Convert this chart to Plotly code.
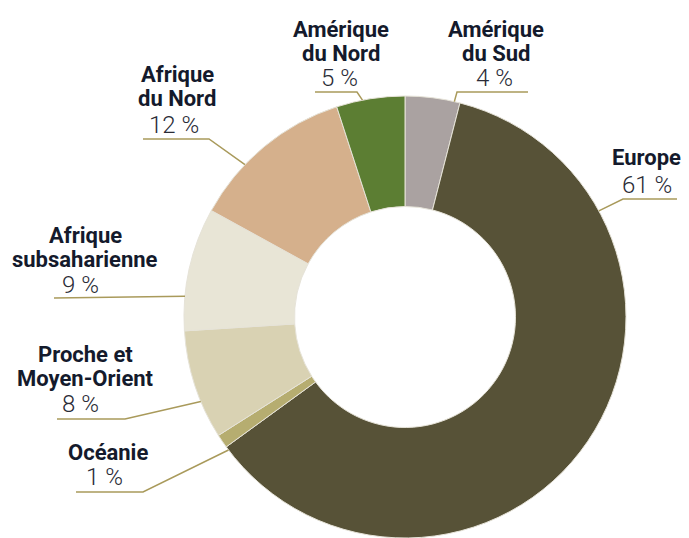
import math
import plotly.graph_objects as go

# ---------------- data ----------------
regions = ["Amérique du Sud", "Europe", "Océanie", "Proche et Moyen-Orient",
           "Afrique subsaharienne", "Afrique du Nord", "Amérique du Nord"]
shares = [4, 61, 1, 8, 9, 12, 5]
name_lines = [["Amérique", "du Sud"], ["Europe"], ["Océanie"], ["Proche et", "Moyen-Orient"],
              ["Afrique", "subsaharienne"], ["Afrique", "du Nord"], ["Amérique", "du Nord"]]

# ---------------- styles / layout ----------------
colors = ["#aaa2a1", "#575237", "#b6ad70", "#d9d2b3", "#e8e5d6", "#d5b08c", "#5c7e33"]
OFF = 8                      # page body margin of the html page
W, H = 689 - OFF, 538 - OFF  # figure size that exactly fills the window
CX, CY, R = 405, 317, 221    # donut centre / radius in window pixels

# per label (window pixels): text centre x, first name baseline, percent baseline,
# leader (x_start, x_bend, y_line, ring angle)
label_pos = [
    dict(cx=496, base=37, pbase=86, px=494, lx0=528, lx1=457, ly=92, ang=12.9),
    dict(cx=646, base=165, pbase=193, px=647, lx0=677, lx1=623, ly=199, ang=61.3),
    dict(cx=108, base=460, pbase=485, px=104, lx0=76, lx1=143, ly=492, ang=233.0),
    dict(cx=85, base=362, pbase=412, px=80, lx0=57, lx1=125, ly=419, ang=247.5),
    dict(cx=85, base=243, pbase=293, px=80, lx0=54, lx1=None, ly=298, ang=275.4),
    dict(cx=177, base=82, pbase=133, px=174, lx0=143, lx1=209, ly=139, ang=313.6),
    dict(cx=341, base=37, pbase=86, px=339, lx0=315, lx1=357, ly=92, ang=348.9),
]
NAME_STEP = 24
NAME_SIZE = 22
PCT_SIZE = 24
NAME_FONT = "Roboto, Arial, sans-serif"
PCT_FONT = "Roboto, Arial, sans-serif"
LEADER = "#a99a5b"


def px(x):
    return (x - OFF) / W


def py(y):
    return 1 - (y - OFF) / H


fig = go.Figure(go.Pie(
    labels=regions,
    values=shares,
    sort=False,
    direction="clockwise",
    rotation=0,
    hole=0.5,
    textinfo="none",
    marker=dict(colors=colors, line=dict(color="#e6e3d8", width=1)),
    domain=dict(x=[px(CX - R), px(CX + R)], y=[py(CY + R), py(CY - R)]),
    showlegend=False,
    hoverinfo="label+percent",
))

annotations = []
shapes = []
for lines, val, pos in zip(name_lines, shares, label_pos):
    for i, ln in enumerate(lines):
        b = pos["base"] + i * NAME_STEP
        annotations.append(dict(
            x=px(pos["cx"]), y=py(b - 0.33 * NAME_SIZE), xref="paper", yref="paper",
            text=ln, showarrow=False, xanchor="center", yanchor="middle",
            font=dict(family=NAME_FONT, size=NAME_SIZE, color="#141a2c", weight="bold"),
        ))
    annotations.append(dict(
        x=px(pos["px"]), y=py(pos["pbase"] - 0.33 * PCT_SIZE), xref="paper", yref="paper",
        text=f"{val} %", showarrow=False, xanchor="center", yanchor="middle",
        font=dict(family=PCT_FONT, size=PCT_SIZE, color="#2a2b36", weight=300),
    ))
    a = math.radians(pos["ang"])
    ex, ey = CX + R * math.sin(a), CY - R * math.cos(a)
    if pos["lx1"] is None:
        path = f"M {px(pos['lx0'])} {py(pos['ly'])} L {px(ex)} {py(ey)}"
    else:
        path = (f"M {px(pos['lx0'])} {py(pos['ly'])} L {px(pos['lx1'])} {py(pos['ly'])} "
                f"L {px(ex)} {py(ey)}")
    shapes.append(dict(type="path", path=path, xref="paper", yref="paper",
                       line=dict(color=LEADER, width=1.5)))

fig.update_layout(
    width=W, height=H,
    margin=dict(l=0, r=0, t=0, b=0),
    paper_bgcolor="white", plot_bgcolor="white",
    annotations=annotations, shapes=shapes,
)

fig.write_html("out.html")
